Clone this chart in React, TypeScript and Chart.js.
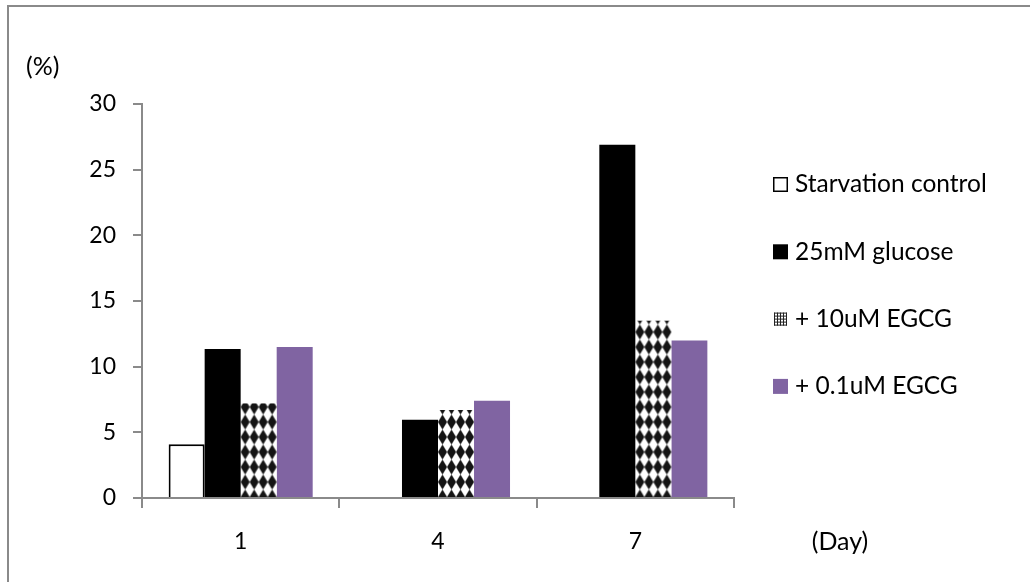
import React, { useEffect, useRef } from 'react';
import { Chart, registerables } from 'chart.js';

Chart.register(...registerables);

// Categories (days) and series values (%)
const days = ['1', '4', '7'];
const seriesNames = ['Starvation control', '25mM glucose', '+ 10uM EGCG', '+ 0.1uM EGCG'];
const starvationControl = [4.1, 0, 0];
const glucose25mM = [11.35, 5.95, 26.9];
const egcg10uM = [7.2, 6.7, 13.5];
const egcg01uM = [11.5, 7.4, 12.0];
const yMin = 0;
const yMax = 30;
const yStep = 5;
const yUnitLabel = '(%)';
const xUnitLabel = '(Day)';

const FONT = 'Lato';
const TICK_FONT_SIZE = 23;
const LEGEND_FONT_SIZE = 24.5;
const CAPTION_FONT_SIZE = 25;
const PURPLE = '#8064A2';
const AXIS_GRAY = '#8a8a8a';

// Harlequin tile: a black diamond spanning the whole tile, white corners
function makeHarlequinTile(): HTMLCanvasElement {
  const tile = document.createElement('canvas');
  tile.width = 9;
  tile.height = 15;
  const t = tile.getContext('2d')!;
  t.fillStyle = '#ffffff';
  t.fillRect(0, 0, 9, 15);
  t.fillStyle = '#141414';
  t.beginPath();
  t.moveTo(4.5, 0);
  t.lineTo(9, 7.5);
  t.lineTo(4.5, 15);
  t.lineTo(0, 7.5);
  t.closePath();
  t.fill();
  return tile;
}

export default function App() {
  const ref = useRef<HTMLCanvasElement>(null);

  useEffect(() => {
    const canvas = ref.current!;
    const ctx = canvas.getContext('2d')!;
    const tile = makeHarlequinTile();

    // Draws the patterned series itself so each bar's diamonds start at its own edge and base
    const harlequinBars = {
      id: 'harlequinBars',
      beforeDatasetDraw(chart: any, args: any) {
        if (args.index !== 2) return;
        const c = chart.ctx as CanvasRenderingContext2D;
        const pattern = c.createPattern(tile, 'repeat')!;
        c.save();
        args.meta.data.forEach((bar: any) => {
          const { x, y, base, width } = bar.getProps(['x', 'y', 'base', 'width'], true);
          const left = x - width / 2;
          pattern.setTransform(new DOMMatrix([1, 0, 0, 1, left, base - 7.5]));
          c.fillStyle = pattern;
          c.fillRect(left, y, width, base - y);
        });
        c.restore();
        return false;
      },
    };

    // Right-hand legend and the unit captions
    const captions = {
      id: 'captions',
      afterDraw(chart: any) {
        const c = chart.ctx as CanvasRenderingContext2D;
        c.save();
        c.fillStyle = '#000';
        c.textBaseline = 'middle';

        c.font = `${CAPTION_FONT_SIZE}px ${FONT}`;
        c.textAlign = 'left';
        c.fillText(yUnitLabel, 26, 67);
        c.textAlign = 'center';
        c.fillText(xUnitLabel, 840, 542);

        c.font = `${LEGEND_FONT_SIZE}px ${FONT}`;
        const boxX = 773;
        const size = 15;
        const firstY = 184.5;
        const gap = 67.3;
        chart.data.datasets.forEach((ds: any, i: number) => {
          const cy = firstY + i * gap;
          const top = cy - size / 2;
          if (i === 0) {
            c.fillStyle = '#fff';
            c.fillRect(boxX, top, size, size);
            c.strokeStyle = '#000';
            c.lineWidth = 1.5;
            c.strokeRect(boxX + 0.75, top + 0.75, size - 1.5, size - 1.5);
          } else if (i === 1) {
            c.fillStyle = '#000';
            c.fillRect(boxX, top, size, size);
          } else if (i === 2) {
            const g = 13;
            const gx = boxX + 1;
            const gy = cy - g / 2;
            c.fillStyle = '#fff';
            c.fillRect(gx, gy, g, g);
            c.fillStyle = '#222';
            for (let k = 0; k <= 12; k += 3) {
              c.fillRect(gx + k, gy, 1, g);
              c.fillRect(gx, gy + k, g, 1);
            }
          } else {
            c.fillStyle = PURPLE;
            c.fillRect(boxX, top, size, size);
          }
          c.fillStyle = '#000';
          c.textAlign = 'left';
          c.fillText(ds.label, boxX + size + 7, cy);
        });
        c.restore();
      },
    };

    const chart = new Chart(ctx, {
      type: 'bar',
      data: {
        labels: days,
        datasets: [
          {
            label: seriesNames[0],
            data: starvationControl,
            backgroundColor: '#ffffff',
            borderColor: '#000000',
            borderWidth: 2,
          },
          {
            label: seriesNames[1],
            data: glucose25mM,
            backgroundColor: '#000000',
            borderWidth: 0,
          },
          {
            label: seriesNames[2],
            data: egcg10uM,
            backgroundColor: '#141414',
            borderWidth: 0,
          },
          {
            label: seriesNames[3],
            data: egcg01uM,
            backgroundColor: PURPLE,
            borderWidth: 0,
          },
        ],
      },
      options: {
        animation: false,
        responsive: false,
        devicePixelRatio: 1,
        layout: { padding: { left: 0, top: 104, right: 296, bottom: 0 } },
        datasets: {
          bar: { barPercentage: 1, categoryPercentage: 0.73 },
        },
        plugins: {
          legend: { display: false },
          tooltip: { enabled: false },
          title: { display: false },
        },
        scales: {
          x: {
            offset: true,
            grid: {
              display: true,
              offset: true,
              drawOnChartArea: false,
              drawTicks: true,
              tickLength: 10,
              color: AXIS_GRAY,
              lineWidth: 2,
            },
            border: { display: true, color: AXIS_GRAY, width: 2, z: 1 },
            ticks: {
              color: '#000',
              padding: 20,
              font: { family: FONT, size: TICK_FONT_SIZE },
              maxRotation: 0,
            },
            afterFit(scale: any) {
              scale.height = 84;
            },
          },
          y: {
            min: yMin,
            max: yMax,
            grid: {
              display: true,
              drawOnChartArea: false,
              drawTicks: true,
              tickLength: 9,
              color: AXIS_GRAY,
              lineWidth: 2,
            },
            border: { display: true, color: AXIS_GRAY, width: 2, z: 1 },
            ticks: {
              stepSize: yStep,
              color: '#000',
              padding: 17,
              font: { family: FONT, size: TICK_FONT_SIZE },
            },
            afterFit(scale: any) {
              scale.width = 142;
            },
          },
        },
      },
      plugins: [harlequinBars, captions],
    });

    return () => chart.destroy();
  }, []);

  return (
    <div
      style={{
        position: 'fixed',
        left: 0,
        top: 0,
        width: 1030,
        height: 582,
        overflow: 'hidden',
        background: '#fff',
      }}
    >
      <canvas
        ref={ref}
        width={1030}
        height={582}
        style={{ position: 'absolute', left: 0, top: 0, width: 1030, height: 582 }}
      />
      <div
        style={{
          position: 'absolute',
          left: 7,
          top: 5,
          width: 1100,
          height: 700,
          borderLeft: `2.5px solid ${AXIS_GRAY}`,
          borderTop: `2.5px solid ${AXIS_GRAY}`,
          pointerEvents: 'none',
        }}
      />
    </div>
  );
}
